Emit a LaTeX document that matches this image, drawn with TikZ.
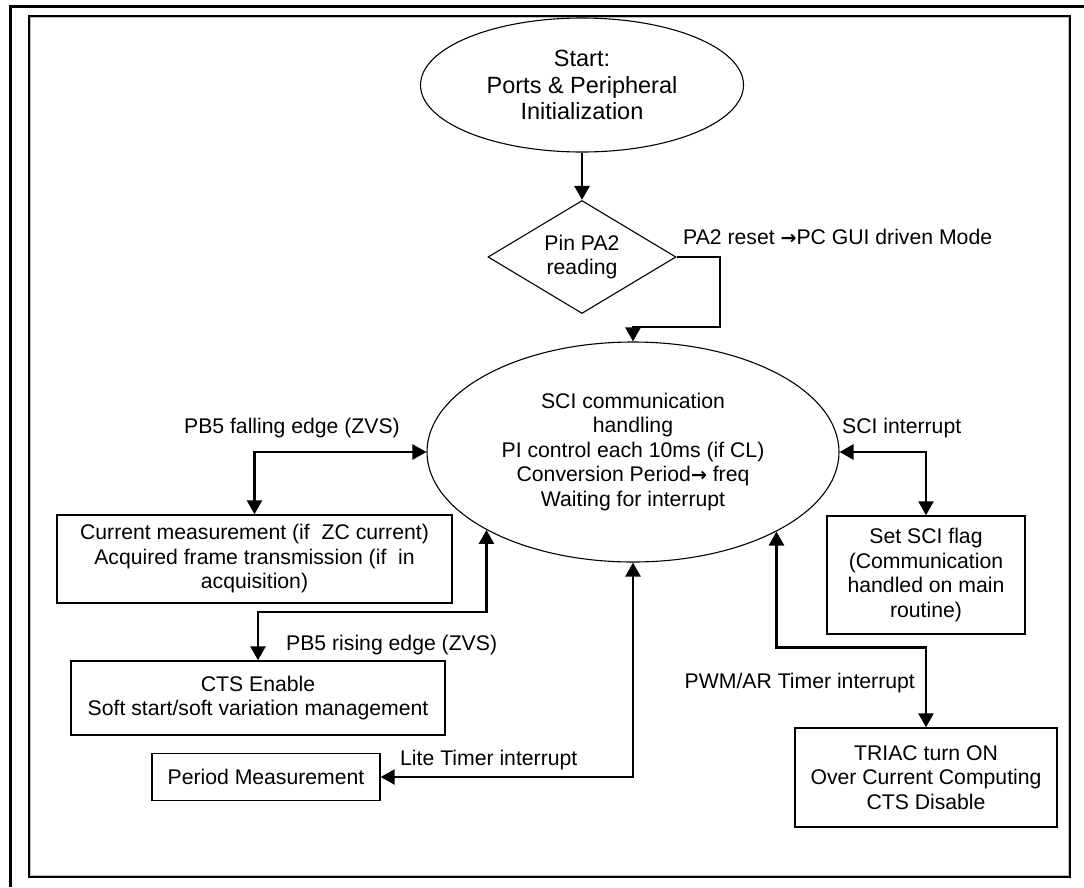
\documentclass[tikz,border=0pt]{standalone}
\usepackage{fontspec}
\setmainfont{Liberation Sans}
\newfontfamily\arrowfont{DejaVu Sans Bold}
\newcommand{\rarr}{{\arrowfont\fontsize{19}{19}\selectfont →}}
\usetikzlibrary{arrows.meta,shapes.geometric}
\begin{document}
\begin{tikzpicture}[x=1pt,y=-1pt,
  f/.style={font=\fontsize{21.2}{24.5}\selectfont},
  lbl/.style={f, inner sep=0pt},
  box/.style={draw, line width=1.4pt, inner sep=0pt, align=center, f},
  oval/.style={draw, ellipse, line width=1.1pt, inner sep=0pt, align=center},
  >={Triangle[length=14pt,width=15pt]},
  conn/.style={line width=2.6pt, ->},
  dconn/.style={line width=2.6pt, <->},
]
\useasboundingbox (0,0) rectangle (1084,887);
% frames
\draw[line width=3pt] (10,887) -- (10,6) -- (1084,6);
\draw[gray!50, line width=1pt] (30.8,17.8) rectangle (1068.2,875.6);
\draw[line width=1.6pt] (29,16) rectangle (1070,877);

% nodes
\node[oval, minimum width=323pt, minimum height=134pt, font=\fontsize{23.5}{26.5}\selectfont] (start) at (582,85) {Start:\\Ports \& Peripheral\\Initialization};
\node[draw, diamond, aspect=1.66, minimum width=188pt, minimum height=113pt, inner sep=0pt, line width=1.1pt, align=center, f] (pin) at (582,257) {Pin PA2\\reading};
\node[oval, minimum width=412pt, minimum height=220pt, f] (main) at (633,452) {SCI communication\\handling\\PI control each 10ms (if CL)\\Conversion Period\rarr{} freq\\Waiting for interrupt};

\node[box, minimum width=395pt, minimum height=88pt] (cur) at (254.5,559) {Current measurement (if\ \ ZC current)\\Acquired frame transmission (if\ \ in\\acquisition)};
\node[box, minimum width=374pt, minimum height=74pt] (cts) at (258,698) {CTS Enable\\Soft start/soft variation management};
\node[box, minimum width=228pt, minimum height=47pt] (period) at (266,777) {Period Measurement};
\node[box, minimum width=198pt, minimum height=118pt] (sci) at (926,575) {Set SCI flag\\(Communication\\handled on main\\routine)};
\node[box, minimum width=262pt, minimum height=99pt] (triac) at (926,777.5) {TRIAC turn ON\\Over Current Computing\\CTS Disable};

% labels
\node[lbl, anchor=west] (lpa2) at (683,237) {PA2 reset \rarr{}PC GUI driven Mode};
\node[lbl, anchor=east] (lfall) at (400,428) {PB5 falling edge (ZVS)};
\node[lbl, anchor=west] (lsci) at (842,428) {SCI interrupt};
\node[lbl, anchor=west] (lrise) at (286,645) {PB5 rising edge (ZVS)};
\node[lbl, anchor=east] (lpwm) at (915,683) {PWM/AR Timer interrupt};
\node[lbl, anchor=west] (llite) at (400,760) {Lite Timer interrupt};

% connectors
\draw[conn] (start.south) -- (pin.north);
\draw[conn] (pin.east) -| (720,327) -| (main.north);
\draw[dconn] (main.west) -| (cur.north);
\draw[dconn] (main.east) -| (sci.north);
\draw[dconn] (main.208.9) -- ++(0,82) -| (cts.north);
\draw[dconn] (main.south) |- (period.east);
\draw[dconn] (main.331.7) -- ++(0,116) -| (triac.north);
\end{tikzpicture}
\end{document}
